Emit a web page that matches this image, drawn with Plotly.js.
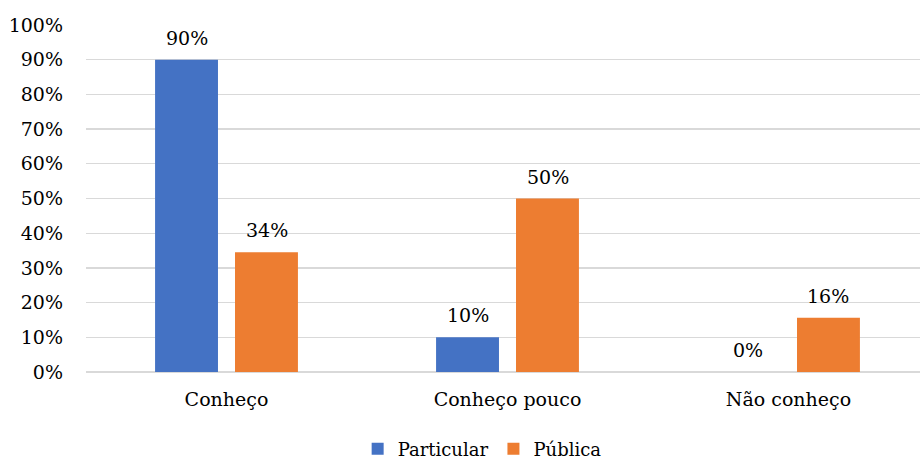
<!DOCTYPE html>
<html>
<head>
<meta charset="utf-8">
<script src="https://cdn.plot.ly/plotly-3.0.1.min.js"></script>
<style>html,body{margin:0;padding:0;background:#fff;}#chart{width:920px;height:459px;}</style>
</head>
<body>
<div id="chart"></div>
<script>
const categories = ["Conheço", "Conheço pouco", "Não conheço"];
const particularValues = [0.90, 0.10, 0.00];
const publicaValues = [0.345, 0.50, 0.156];
const particularLabels = ["90%", "10%", "0%"];
const publicaLabels = ["34%", "50%", "16%"];
const yTickVals = [0, 0.1, 0.2, 0.3, 0.4, 0.5, 0.6, 0.7, 0.8, 0.9, 1.0];
const yTickText = ["0%", "10%", "20%", "30%", "40%", "50%", "60%", "70%", "80%", "90%", "100%"];

const font = {family: "DejaVu Serif", size: 19, color: "#000"};
const legendFont = {family: "DejaVu Serif", size: 18, color: "#000"};

const traces = [
  {type: "bar", name: "Particular", x: categories, y: particularValues,
   marker: {color: "#4472C4"}, hoverinfo: "none"},
  {type: "bar", name: "Pública", x: categories, y: publicaValues,
   marker: {color: "#ED7D31"}, hoverinfo: "none"}
];

const annotations = [];
[[particularValues, particularLabels, -40], [publicaValues, publicaLabels, 40]].forEach(([vals, labs, dx]) => {
  categories.forEach((c, i) => {
    annotations.push({x: c, y: vals[i], text: labs[i], showarrow: false, xanchor: "center",
      yanchor: "bottom", xshift: dx, yshift: 9, font: font});
  });
});

const layout = {
  width: 920, height: 459,
  margin: {l: 86, r: 0, t: 25, b: 87, autoexpand: false},
  paper_bgcolor: "#fff", plot_bgcolor: "#fff",
  font: font,
  barmode: "group", bargap: 0.431, bargroupgap: 0.213,
  showlegend: true,
  legend: {orientation: "h", x: 0.475, xanchor: "center", y: -0.275, yanchor: "bottom", font: legendFont,
           itemwidth: 30, tracegroupgap: 0},
  annotations: annotations,
  xaxis: {range: [-0.5, 2.468], showgrid: false, zeroline: false, showline: false, ticks: "",
          tickfont: font, ticklabelstandoff: 14, fixedrange: true},
  yaxis: {range: [0, 1], tickvals: yTickVals, ticktext: yTickText, showgrid: true, gridcolor: "#d9d9d9",
          gridwidth: 1.3, zeroline: true, zerolinecolor: "#d9d9d9", zerolinewidth: 1.5, showline: false,
          ticks: "", tickfont: font, ticklabelstandoff: 22, fixedrange: true}
};

Plotly.newPlot("chart", traces, layout, {displayModeBar: false, staticPlot: true});
</script>
</body>
</html>
